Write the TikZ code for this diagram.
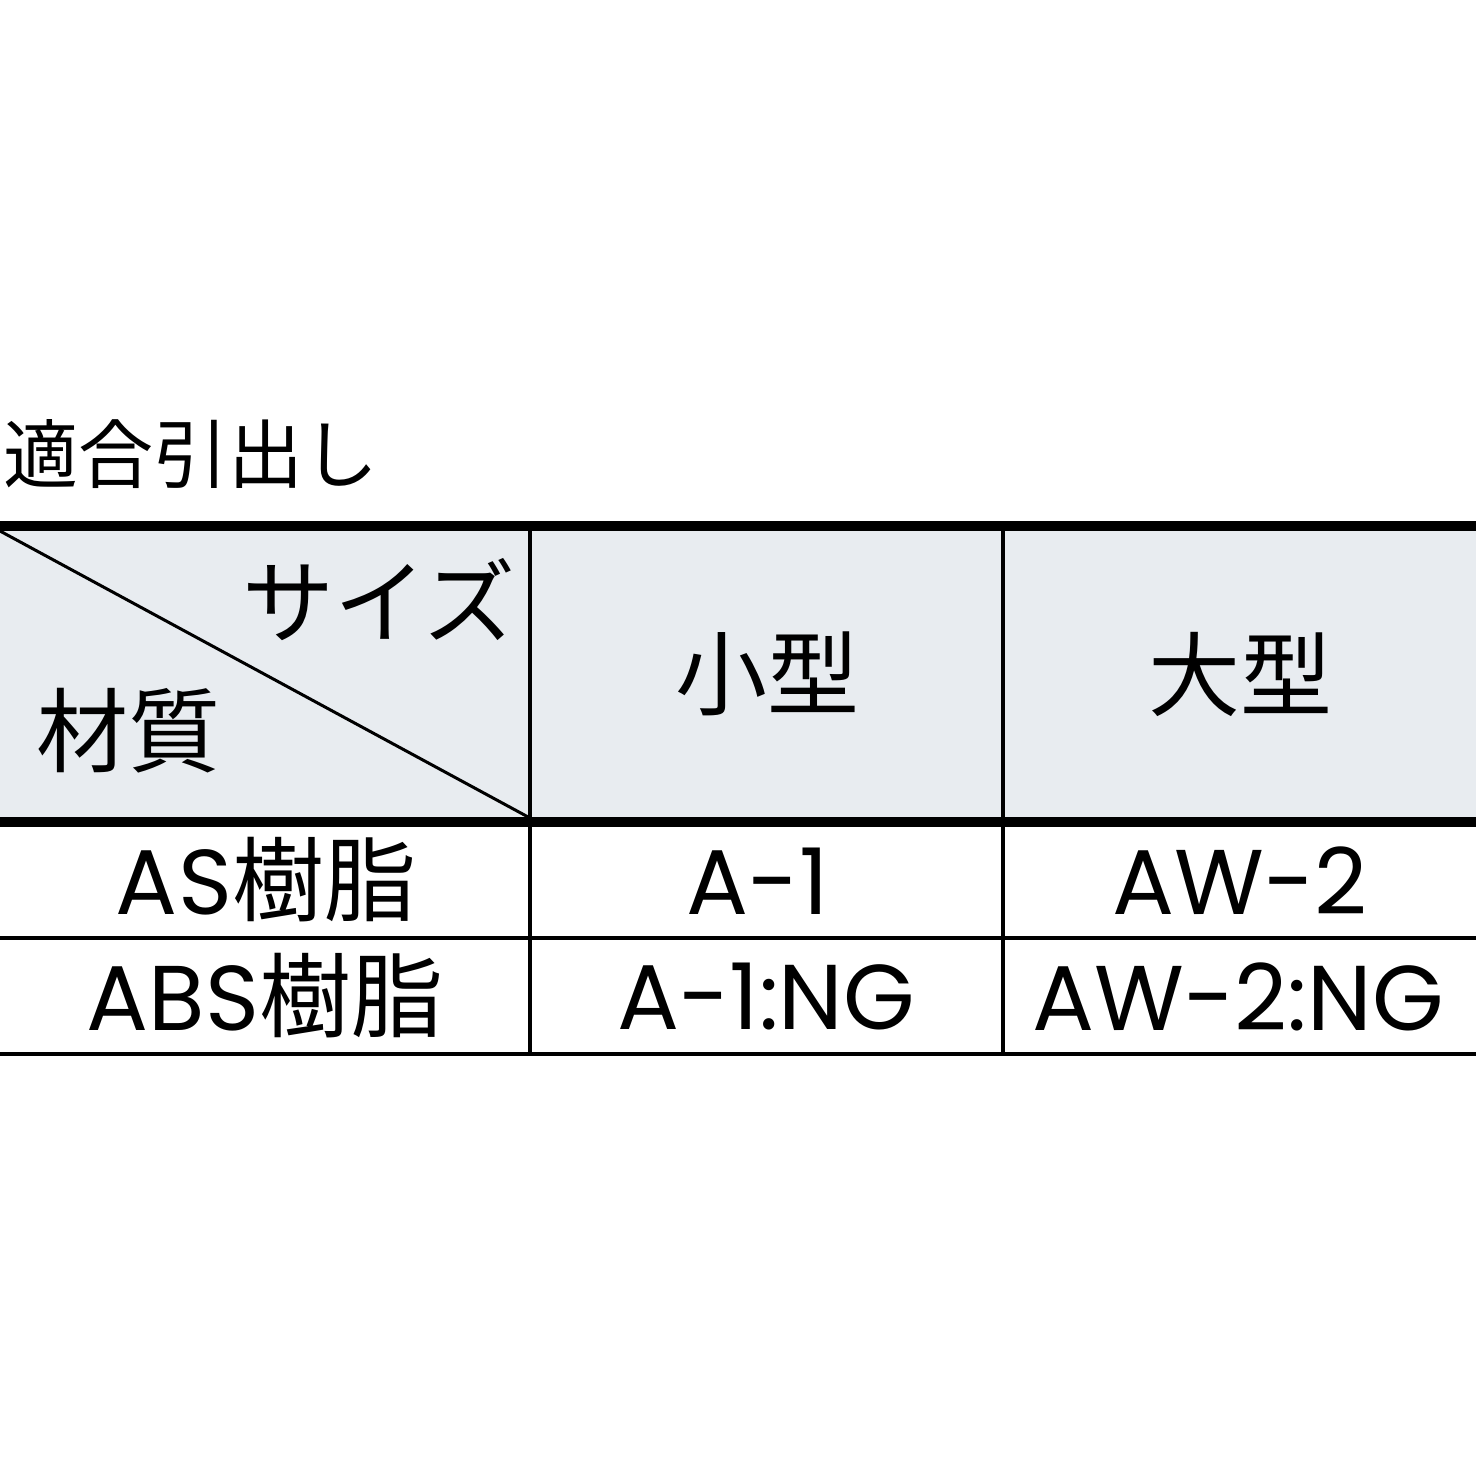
\documentclass[tikz,border=0pt]{standalone}
\usepackage{fontspec}
\newfontfamily\jp{Noto Sans CJK JP}
\newfontfamily\lat{Poppins}
\definecolor{headgray}{RGB}{232,236,240}
\begin{document}
\begin{tikzpicture}[x=1pt,y=-1pt,
  thick rule/.style={line width=10pt},
  thin rule/.style={line width=4pt},
  vrule/.style={line width=3.5pt},
  cell/.style={inner sep=0pt,outer sep=0pt,font=\jp\fontsize{92}{100}\selectfont},
  title/.style={inner sep=0pt,outer sep=0pt,font=\jp\fontsize{75}{85}\selectfont}]
\useasboundingbox (0,0) rectangle (1476,1476);
% header fill
\fill[headgray] (0,526) rectangle (1476,822);
% diagonal
\coordinate (dA) at (0,531);
\coordinate (dB) at (530,818);
\draw[line width=3pt] (dA) -- (dB);
% rules
\coordinate (tl) at (0,526); \coordinate (tr) at (1476,526);
\coordinate (hl) at (0,822); \coordinate (hr) at (1476,822);
\coordinate (ml) at (0,938); \coordinate (mr) at (1476,938);
\coordinate (bl) at (0,1054); \coordinate (br) at (1476,1054);
\coordinate (v1t) at (530,526); \coordinate (v1b) at (530,1055);
\coordinate (v2t) at (1003,526); \coordinate (v2b) at (1003,1055);
\draw[vrule] (v1t) -- (v1b);
\draw[vrule] (v2t) -- (v2b);
\draw[thin rule] (ml) -- (mr);
\draw[thin rule] (bl) -- (br);
\draw[thick rule] (tl) -- (tr);
\draw[thick rule] (hl) -- (hr);
% texts
\node[title,anchor=west] (t) at (4,454) {適合引出し};
\node[cell] (size) at (379,600) {サイズ};
\node[cell] (mat) at (128,731) {材質};
\node[cell] (small) at (767,674) {小型};
\node[cell] (large) at (1240,674) {大型};
\node[cell] (r1c0) at (266,880) {{\lat AS}樹脂};
\node[cell] (r1c1) at (758,881) {{\lat A-1}};
\node[cell] (r1c2) at (1240,881) {{\lat AW-2}};
\node[cell] (r2c0) at (265,996) {{\lat ABS}樹脂};
\node[cell] (r2c1) at (766,997) {{\lat A-1:NG}};
\node[cell] (r2c2) at (1238,997) {{\lat AW-2:NG}};
\end{tikzpicture}
\end{document}
